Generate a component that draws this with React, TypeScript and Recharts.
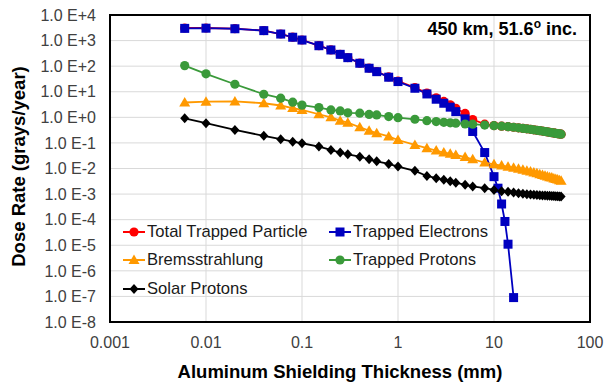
import React from 'react'
import {
  LineChart,
  Line,
  XAxis,
  YAxis,
  CartesianGrid,
  ReferenceArea,
} from 'recharts'

// shielding thickness (mm)
const thickLow = [
  0.006, 0.01, 0.02, 0.04, 0.06, 0.08, 0.1, 0.15, 0.2, 0.25, 0.3, 0.4, 0.5,
  0.6, 0.8, 1, 1.5, 2, 2.5, 3, 3.5, 4, 5, 6, 8, 10,
]
const thickHigh = [
  12, 14, 16, 18, 20, 22, 24, 26, 28, 30, 32, 34, 36, 38, 40, 42, 44, 46, 48,
  50,
]
const electronTailThick = [11, 12, 13, 14, 16]

// dose rates (grays/year)
const totalLow = [
  3105, 3100, 2920, 2458, 1806, 1354, 1053, 632, 432, 292, 217, 131, 84, 62,
  38, 26, 14.5, 8.9, 5.8, 4.2, 3.1, 2.26, 1.42, 0.82, 0.54, 0.475,
]
const totalHigh = [
  0.45, 0.43, 0.41, 0.39, 0.37, 0.355, 0.34, 0.325, 0.31, 0.3, 0.29, 0.28,
  0.27, 0.26, 0.25, 0.245, 0.235, 0.23, 0.225, 0.22,
]
const electronsLow = [
  3000, 3050, 2900, 2450, 1800, 1350, 1050, 630, 430, 290, 215, 130, 83, 61,
  37, 25, 13.7, 8.2, 5.1, 3.55, 2.5, 1.67, 0.87, 0.28, 0.042, 0.0048,
]
const electronsTail = [0.0017, 0.00041, 0.000085, 0.000011, 0.00000009]
const bremsLow = [
  3.8, 4.1, 4.2, 3.55, 2.9, 2.3, 1.95, 1.32, 1.0, 0.74, 0.62, 0.41, 0.3, 0.24,
  0.18, 0.13, 0.083, 0.062, 0.05, 0.042, 0.038, 0.034, 0.028, 0.023, 0.017,
  0.0145,
]
const bremsHigh = [
  0.013, 0.0118, 0.0108, 0.0098, 0.0089, 0.0082, 0.0076, 0.007, 0.0065, 0.006,
  0.0056, 0.0052, 0.0049, 0.0046, 0.0044, 0.0041, 0.0039, 0.0037, 0.0035,
  0.0033,
]
const protonsLow = [
  105, 50, 19.6, 8, 5.6, 3.9, 3.0, 2.4, 1.95, 1.78, 1.5, 1.45, 1.3, 1.24, 1.07,
  0.97, 0.84, 0.74, 0.68, 0.64, 0.61, 0.59, 0.55, 0.54, 0.5, 0.47,
]
const protonsHigh = [
  0.45, 0.43, 0.41, 0.39, 0.37, 0.355, 0.34, 0.325, 0.31, 0.3, 0.29, 0.28,
  0.27, 0.26, 0.25, 0.245, 0.235, 0.23, 0.225, 0.22,
]
const solarLow = [
  0.92, 0.59, 0.32, 0.19, 0.14, 0.112, 0.097, 0.072, 0.053, 0.042, 0.036,
  0.029, 0.023, 0.019, 0.015, 0.0119, 0.0081, 0.0051, 0.0042, 0.0036, 0.0032,
  0.0028, 0.0023, 0.002, 0.0017, 0.00146,
]
const solarHigh = [
  0.0013, 0.00122, 0.00115, 0.00108, 0.00102, 0.00099, 0.00096, 0.00094,
  0.00092, 0.0009, 0.00089, 0.00088, 0.00087, 0.00086, 0.00085, 0.00084,
  0.00083, 0.00082, 0.00081, 0.0008,
]

const xTicks = [0.001, 0.01, 0.1, 1, 10, 100]
const yTicks = [1e-8, 1e-7, 1e-6, 1e-5, 1e-4, 1e-3, 1e-2, 1e-1, 1, 10, 100, 1e3, 1e4]

const FONT = '"Liberation Sans", Arial, sans-serif'

const zip = (xs: number[], ys: number[]) => xs.map((x, i) => ({ x, y: ys[i] }))

type Shape = 'circle' | 'square' | 'triangle' | 'diamond'

const marker = (shape: Shape, color: string, cx: number, cy: number, key?: string) => {
  if (shape === 'circle') return <circle key={key} cx={cx} cy={cy} r={4.6} fill={color} />
  if (shape === 'square')
    return <rect key={key} x={cx - 4.5} y={cy - 4.5} width={9} height={9} fill={color} />
  if (shape === 'triangle')
    return (
      <polygon
        key={key}
        points={`${cx},${cy - 5.5} ${cx + 5.5},${cy + 4} ${cx - 5.5},${cy + 4}`}
        fill={color}
      />
    )
  return (
    <polygon
      key={key}
      points={`${cx},${cy - 5} ${cx + 4.5},${cy} ${cx},${cy + 5} ${cx - 4.5},${cy}`}
      fill={color}
    />
  )
}

const series = [
  { name: 'Total Trapped Particle', color: '#ff0000', shape: 'circle' as Shape, data: zip([...thickLow, ...thickHigh], [...totalLow, ...totalHigh]) },
  { name: 'Trapped Electrons', color: '#0000c0', shape: 'square' as Shape, data: zip([...thickLow, ...electronTailThick], [...electronsLow, ...electronsTail]) },
  { name: 'Bremsstrahlung', color: '#ff9900', shape: 'triangle' as Shape, data: zip([...thickLow, ...thickHigh], [...bremsLow, ...bremsHigh]) },
  { name: 'Trapped Protons', color: '#3a9a3a', shape: 'circle' as Shape, data: zip([...thickLow, ...thickHigh], [...protonsLow, ...protonsHigh]) },
  { name: 'Solar Protons', color: '#000000', shape: 'diamond' as Shape, data: zip([...thickLow, ...thickHigh], [...solarLow, ...solarHigh]) },
]

const expLabel = (v: number) => {
  const e = Math.round(Math.log10(v))
  return `1.0 E${e >= 0 ? '+' : ''}${e}`
}

function LegendBox() {
  return (
    <div
      style={{
        position: 'absolute',
        left: 122,
        top: 218,
        display: 'grid',
        gridTemplateColumns: '206px 200px',
        rowGap: 0,
        fontFamily: FONT,
        fontSize: 16.6,
        color: '#1a1a1a',
      }}
    >
      {series.map((s) => (
        <div key={s.name} style={{ display: 'flex', alignItems: 'center', height: 28.3 }}>
          <svg width={24} height={14} style={{ marginRight: 1 }}>
            <line x1={1} y1={7} x2={23} y2={7} stroke={s.color} strokeWidth={2} />
            {marker(s.shape, s.color, 12, 7)}
          </svg>
          <span>{s.name}</span>
        </div>
      ))}
    </div>
  )
}

export default function App() {
  return (
    <div style={{ position: 'absolute', left: 0, top: 0, width: 605, height: 385, background: '#fff' }}>
      <LineChart
        width={605}
        height={385}
        margin={{ top: 15, right: 15, left: 0, bottom: 0 }}
        style={{ fontFamily: FONT }}
      >
        <CartesianGrid stroke="#d9d9d9" strokeWidth={1} />
        <XAxis
          dataKey="x"
          type="number"
          scale="log"
          domain={[0.001, 100]}
          ticks={xTicks}
          allowDataOverflow
          height={63}
          axisLine={false}
          tickLine={false}
          tickMargin={9}
          tick={{ fill: '#404040', fontSize: 16 }}
          tickFormatter={(v: number) => String(v)}
          label={(props: any) => {
            const vb = props.viewBox
            return (
              <text
                x={vb.x + vb.width / 2 - 10}
                y={vb.y + 56}
                textAnchor="middle"
                fontSize={18.5}
                fontWeight="bold"
                fill="#000"
              >
                Aluminum Shielding Thickness (mm)
              </text>
            )
          }}
        />
        <YAxis
          dataKey="y"
          type="number"
          scale="log"
          domain={[1e-8, 1e4]}
          ticks={yTicks}
          allowDataOverflow
          width={110}
          axisLine={false}
          tickLine={false}
          tickMargin={8}
          tick={{ fill: '#404040', fontSize: 16 }}
          tickFormatter={expLabel}
          label={(props: any) => {
            const vb = props.viewBox
            const cx = vb.x + 18
            const cy = vb.y + vb.height / 2 - 2
            return (
              <text
                x={cx}
                y={cy}
                transform={`rotate(-90 ${cx} ${cy})`}
                textAnchor="middle"
                dominantBaseline="central"
                fontSize={18.5}
                fontWeight="bold"
                fill="#000"
              >
                Dose Rate (grays/year)
              </text>
            )
          }}
        />
        <ReferenceArea
          x1={0.001}
          x2={100}
          y1={1e-8}
          y2={1e4}
          fill="none"
          stroke="#000"
          strokeWidth={2}
          label={(props: any) => {
            const vb = props.viewBox
            return (
              <text
                x={vb.x + vb.width - 13}
                y={vb.y + 20}
                textAnchor="end"
                fontSize={18}
                fontWeight="bold"
                fill="#000"
              >
                450 km, 51.6
                <tspan fontSize={12} dy={-7}>o</tspan>
                <tspan dy={7}> inc.</tspan>
              </text>
            )
          }}
        />
        {series.map((s) => (
          <Line
            key={s.name}
            data={s.data}
            dataKey="y"
            name={s.name}
            stroke={s.color}
            strokeWidth={1.8}
            isAnimationActive={false}
            dot={(p: any) => marker(s.shape, s.color, p.cx, p.cy, `${s.name}-${p.index}`)}
            activeDot={false}
          />
        ))}
      </LineChart>
      <LegendBox />
    </div>
  )
}
